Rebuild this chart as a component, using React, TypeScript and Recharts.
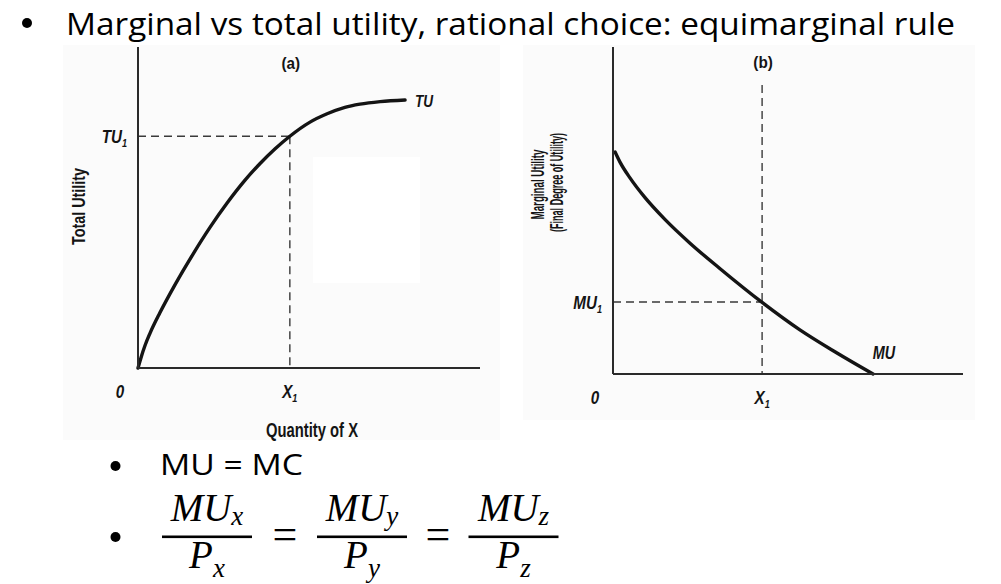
import { LineChart, Line, XAxis, YAxis, ReferenceLine, ReferenceDot } from 'recharts'

// (a) total utility curve (x: quantity, y: utility, both 0..100)
const tuQty = [0, 0.9, 2.05, 3.5, 6.4, 10.8, 16.1, 21.05, 26, 31.3, 35.7, 40.1, 44.4, 50.3, 55.3, 60.5, 64.9, 70.8, 78.1]
const tuValues = [0, 3.3, 7, 10.8, 17.2, 25.9, 35.5, 43.8, 51.3, 58.5, 63.7, 68.3, 72.2, 76.6, 79.2, 81.2, 82.2, 83, 83.5]

// (b) marginal utility curve
const muQty = [0.6, 2, 4.9, 9.1, 14.9, 22, 30.6, 42.6, 53.4, 63.4, 74.3]
const muValues = [67.9, 64.8, 59.9, 54, 47.2, 40, 32.2, 21.9, 13.5, 6.8, 0]

const X1_A = 44.4
const TU1 = 72.2
const X1_B = 42.6
const MU1 = 22
const GUIDE_TOP_B = 88.4

const xTicksA = [0, X1_A]
const xTicksB = [0, X1_B]
const xTickLabels = [['0', ''], ['X', '1']]
const yTickLabelA = ['TU', '1']
const yTickLabelB = ['MU', '1']

const fractionSubs = ['x', 'y', 'z']

const tuData = tuQty.map((q, i) => ({ q, v: tuValues[i] }))
const muData = muQty.map((q, i) => ({ q, v: muValues[i] }))

const INK = '#141414'
const AXIS = '#2a2a2a'
const DASH = '#3a3a3a'
const SCAN_FONT = "'Liberation Sans', Arial, sans-serif"
const SLIDE_FONT = "'Open Sans', 'Noto Sans', sans-serif"
const MATH_FONT = "'Liberation Serif', 'DejaVu Serif', serif"
const AX = 40 // axis box size

// horizontal squeeze so a bold label fits the width it has in the scan
let ctx: CanvasRenderingContext2D | null = null
function squeeze(text: string, size: number, target: number) {
  if (!ctx && typeof document !== 'undefined') ctx = document.createElement('canvas').getContext('2d')
  if (!ctx) return 0.7
  ctx.font = `bold ${size}px ${SCAN_FONT}`
  const w = ctx.measureText(text).width
  return w > 0 ? target / w : 0.7
}

function Sym({ x, y, main, sub, anchor = 'middle', size = 19, sx = 0.8, italic = true }: any) {
  return (
    <text
      transform={`translate(${x},${y}) scale(${sx},1)`}
      textAnchor={anchor}
      fontFamily={SCAN_FONT}
      fontWeight={700}
      fontStyle={italic ? 'italic' : 'normal'}
      fontSize={size}
      fill={INK}
    >
      {main}
      {sub ? <tspan fontSize={size * 0.6} dy={4}>{sub}</tspan> : null}
    </text>
  )
}

function Rot({ x, y, text, len, size }: any) {
  const sx = squeeze(text, size, len)
  return (
    <text
      transform={`translate(${x},${y}) rotate(-90) scale(${sx},1)`}
      textAnchor="middle"
      fontFamily={SCAN_FONT}
      fontWeight={700}
      fontSize={size}
      fill={INK}
    >
      {text}
    </text>
  )
}

const xTick = (ticks: number[]) => (p: any) => {
  const i = ticks.indexOf(p.payload.value)
  const [main, sub] = xTickLabels[i < 0 ? 0 : i]
  const dx = p.payload.value === 0 ? -18 : 0
  return <Sym x={p.x + dx} y={p.y + 30} main={main} sub={sub} />
}

const yTick = (label: string[]) => (p: any) => (
  <Sym x={p.x - 11} y={p.y + 7} main={label[0]} sub={label[1]} anchor="end" />
)

const dotLabel = (main: string, dx: number, dy: number, opts: any = {}) => (p: any) => {
  const vb = p.viewBox || { x: 0, y: 0, width: 0, height: 0 }
  return <Sym x={vb.x + vb.width / 2 + dx} y={vb.y + vb.height / 2 + dy} main={main} {...opts} />
}

function PanelA() {
  const last = tuData[tuData.length - 1]
  return (
    <LineChart width={440} height={410} data={tuData} margin={{ top: 7, right: 20, bottom: 82 - AX, left: 78 - AX }}>
      <XAxis
        type="number"
        dataKey="q"
        domain={[0, 100]}
        ticks={xTicksA}
        interval={0}
        height={AX}
        tickSize={0}
        tickMargin={0}
        tickLine={false}
        axisLine={{ stroke: AXIS, strokeWidth: 2 }}
        tick={xTick(xTicksA)}
        label={(p: any) => (
          <text
            transform={`translate(${p.viewBox.x + p.viewBox.width / 2 + 3},${p.viewBox.y + 69}) scale(0.74,1)`}
            textAnchor="middle"
            fontFamily={SCAN_FONT}
            fontWeight={700}
            fontSize={20}
            fill={INK}
          >
            Quantity of X
          </text>
        )}
      />
      <YAxis
        type="number"
        domain={[0, 100]}
        ticks={[TU1]}
        interval={0}
        width={AX}
        tickSize={0}
        tickMargin={0}
        tickLine={false}
        axisLine={{ stroke: AXIS, strokeWidth: 2 }}
        tick={yTick(yTickLabelA)}
        label={(p: any) => (
          <Rot
            x={p.viewBox.x + p.viewBox.width - 53}
            y={p.viewBox.y + p.viewBox.height / 2 - 1}
            text="Total Utility"
            len={77}
            size={18}
          />
        )}
      />
      <ReferenceLine segment={[{ x: 0, y: TU1 }, { x: X1_A, y: TU1 }]} stroke={DASH} strokeWidth={1.4} strokeDasharray="8 5" />
      <ReferenceLine segment={[{ x: X1_A, y: TU1 }, { x: X1_A, y: 0 }]} stroke={DASH} strokeWidth={1.4} strokeDasharray="8 5" />
      <Line type="monotone" dataKey="v" stroke={INK} strokeWidth={3.4} dot={false} isAnimationActive={false} strokeLinecap="round" />
      <ReferenceDot x={last.q} y={last.v} r={1} fill="none" stroke="none" label={dotLabel('TU', 19, 7, { size: 17 })} />
      <ReferenceDot x={X1_A} y={100} r={1} fill="none" stroke="none" label={dotLabel('(a)', 1, 22, { size: 17, sx: 0.9, italic: false })} />
    </LineChart>
  )
}

function PanelB() {
  const last = muData[muData.length - 1]
  return (
    <LineChart width={480} height={400} data={muData} margin={{ top: 7, right: 17, bottom: 66 - AX, left: 113 - AX }}>
      <XAxis
        type="number"
        dataKey="q"
        domain={[0, 100]}
        ticks={xTicksB}
        interval={0}
        height={AX}
        tickSize={0}
        tickMargin={0}
        tickLine={false}
        axisLine={{ stroke: AXIS, strokeWidth: 2 }}
        tick={xTick(xTicksB)}
      />
      <YAxis
        type="number"
        domain={[0, 100]}
        ticks={[MU1]}
        interval={0}
        width={AX}
        tickSize={0}
        tickMargin={0}
        tickLine={false}
        axisLine={{ stroke: AXIS, strokeWidth: 2 }}
        tick={yTick(yTickLabelB)}
        label={(p: any) => {
          const ax = p.viewBox.x + p.viewBox.width
          const cy = p.viewBox.y + p.viewBox.height / 2
          return (
            <g>
              <Rot x={ax - 69} y={cy - 26} text="Marginal Utility" len={70} size={18} />
              <Rot x={ax - 50} y={cy - 28} text="(Final Degree of Utility)" len={99} size={18} />
            </g>
          )
        }}
      />
      <ReferenceLine segment={[{ x: 0, y: MU1 }, { x: X1_B, y: MU1 }]} stroke={DASH} strokeWidth={1.4} strokeDasharray="8 5" />
      <ReferenceLine segment={[{ x: X1_B, y: GUIDE_TOP_B }, { x: X1_B, y: 0 }]} stroke={DASH} strokeWidth={1.4} strokeDasharray="8 5" />
      <Line type="monotone" dataKey="v" stroke={INK} strokeWidth={3.4} dot={false} isAnimationActive={false} strokeLinecap="round" />
      <ReferenceDot x={last.q} y={last.v} r={1} fill="none" stroke="none" label={dotLabel('MU', 11, -15, { size: 18 })} />
      <ReferenceDot x={X1_B} y={100} r={1} fill="none" stroke="none" label={dotLabel('(b)', 1, 21, { size: 17, sx: 0.9, italic: false })} />
    </LineChart>
  )
}

function Fraction({ cx, sub }: { cx: number; sub: string }) {
  return (
    <g fontFamily={MATH_FONT} fontStyle="italic" fill="#000">
      <text x={cx} y={521} textAnchor="middle" fontSize={39}>
        MU<tspan fontSize={27} dy={4}>{sub}</tspan>
      </text>
      <rect x={cx - 45} y={535.5} width={90} height={2.6} fill="#000" />
      <text x={cx} y={568} textAnchor="middle" fontSize={39}>
        P<tspan fontSize={27} dy={9}>{sub}</tspan>
      </text>
    </g>
  )
}

export default function App() {
  const centers = [207, 362, 513.5]
  return (
    <div style={{ position: 'absolute', left: 0, top: 0, width: 1001, height: 584, background: '#fff', overflow: 'hidden' }}>
      <svg width={1001} height={584} style={{ position: 'absolute', left: 0, top: 0 }}>
        <rect x={63} y={45} width={437} height={395} fill="#fbfbfb" />
        <rect x={313} y={157} width={107} height={126} fill="#fff" />
        <rect x={523} y={45} width={452} height={375} fill="#fbfbfb" />

        <circle cx={27} cy={23} r={5} fill="#000" />
        <text x={66} y={35} fontFamily={SLIDE_FONT} fontSize={31} fill="#000" textLength={889} lengthAdjust="spacingAndGlyphs">
          Marginal vs total utility, rational choice: equimarginal rule
        </text>

        <circle cx={115.5} cy={466} r={5} fill="#000" />
        <text x={160} y={475} fontFamily={SLIDE_FONT} fontSize={29} fill="#000" textLength={143} lengthAdjust="spacingAndGlyphs">
          MU = MC
        </text>

        <circle cx={115.5} cy={537} r={5} fill="#000" />
        {fractionSubs.map((s, i) => (
          <Fraction key={s} cx={centers[i]} sub={s} />
        ))}
        <text x={285} y={549} textAnchor="middle" fontFamily={MATH_FONT} fontSize={44} fill="#000">=</text>
        <text x={438} y={549} textAnchor="middle" fontFamily={MATH_FONT} fontSize={44} fill="#000">=</text>
      </svg>
      <div style={{ position: 'absolute', left: 60, top: 40 }}>
        <PanelA />
      </div>
      <div style={{ position: 'absolute', left: 500, top: 40 }}>
        <PanelB />
      </div>
    </div>
  )
}
